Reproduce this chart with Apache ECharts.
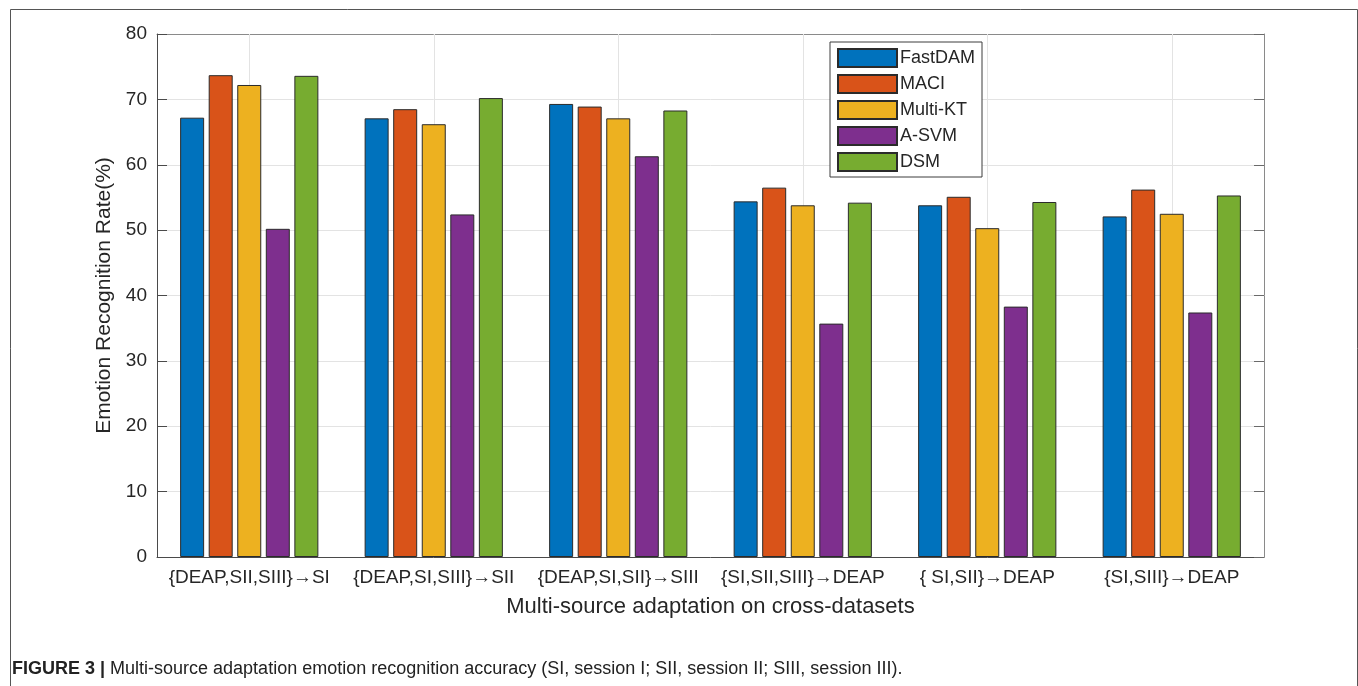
<!DOCTYPE html>
<html>
<head>
<meta charset="utf-8">
<script src="https://cdn.jsdelivr.net/npm/echarts@6/dist/echarts.min.js"></script>
<style>
  html, body { margin: 0; padding: 0; background: #fff; }
  #chart { width: 1358px; height: 686px; }
</style>
</head>
<body>
<div id="chart"></div>
<script>
// Cross-dataset multi-source adaptation results
const categories = [
  '{DEAP,SII,SIII}→SI',
  '{DEAP,SI,SIII}→SII',
  '{DEAP,SI,SII}→SIII',
  '{SI,SII,SIII}→DEAP',
  '{ SI,SII}→DEAP',
  '{SI,SIII}→DEAP'
];
const methods = ['FastDAM', 'MACI', 'Multi-KT', 'A-SVM', 'DSM'];
const fastDAM = [67.2, 67.1, 69.3, 54.4, 53.8, 52.1];
const maci    = [73.7, 68.5, 68.9, 56.5, 55.1, 56.2];
const multiKT = [72.2, 66.2, 67.1, 53.8, 50.3, 52.5];
const aSVM    = [50.2, 52.4, 61.3, 35.7, 38.3, 37.4];
const dsm     = [73.6, 70.2, 68.3, 54.2, 54.3, 55.3];
const yTicks  = [0, 10, 20, 30, 40, 50, 60, 70, 80];

const seriesValues = [fastDAM, maci, multiKT, aSVM, dsm];
const colors = ['#0072BD', '#D95319', '#EDB120', '#7E2F8E', '#77AC30'];

const chart = echarts.init(document.getElementById('chart'));
const font = 'Liberation Sans, Arial, sans-serif';
const textColor = '#262626';

const series = methods.map((name, i) => ({
  name: name,
  type: 'bar',
  data: seriesValues[i],
  barWidth: 24,
  barGap: '19%',
  z: 3,
  itemStyle: { color: colors[i], borderColor: '#2b2b2b', borderWidth: 1 }
}));

// Vertical grid lines through each category centre, drawn beneath the bars
series.push({
  name: 'gridlines',
  type: 'line',
  data: [],
  z: 1,
  silent: true,
  showSymbol: false,
  markLine: {
    z: 1,
    silent: true,
    symbol: 'none',
    label: { show: false },
    lineStyle: { color: '#e3e3e3', width: 1, type: 'solid' },
    data: categories.map(c => ({ xAxis: c }))
  }
});

chart.setOption({
  animation: false,
  backgroundColor: '#fff',
  textStyle: { fontFamily: font },
  grid: { left: 157, right: 94, top: 34, bottom: 129, containLabel: false },
  legend: {
    data: methods,
    orient: 'vertical',
    left: 830,
    top: 42,
    itemWidth: 59,
    itemHeight: 18,
    itemGap: 6,
    padding: [6, 7, 5, 7],
    backgroundColor: '#fff',
    borderColor: '#3c3c3c',
    borderWidth: 1,
    borderRadius: 0,
    icon: 'rect',
    textStyle: { fontFamily: font, fontSize: 18, lineHeight: 18, color: textColor, padding: [0, 0, 0, -2] }
  },
  xAxis: [{
    type: 'category',
    data: categories,
    position: 'bottom',
    name: 'Multi-source adaptation on cross-datasets',
    nameLocation: 'middle',
    nameGap: 39,
    nameTextStyle: { fontFamily: font, fontSize: 22, color: textColor },
    axisLine: { show: true, lineStyle: { color: '#4a4a4a', width: 1 } },
    axisTick: { show: true, inside: true, alignWithLabel: true, length: 7, lineStyle: { color: '#4a4a4a' } },
    axisLabel: { fontFamily: font, fontSize: 19, color: textColor, margin: 11, interval: 0 },
    splitLine: { show: false }
  }, {
    type: 'category',
    data: categories,
    position: 'top',
    axisLine: { show: true, onZero: false, lineStyle: { color: '#8a8a8a', width: 1 } },
    axisTick: { show: false },
    axisLabel: { show: false },
    splitLine: { show: false }
  }],
  yAxis: [{
    type: 'value',
    min: 0,
    max: 80,
    interval: 10,
    name: 'Emotion Recognition Rate(%)',
    nameLocation: 'middle',
    nameGap: 40,
    nameTextStyle: { fontFamily: font, fontSize: 21, color: textColor },
    axisLine: { show: true, lineStyle: { color: '#4a4a4a', width: 1 } },
    axisTick: { show: true, inside: true, length: 10, lineStyle: { color: '#4a4a4a' } },
    axisLabel: {
      fontFamily: font, fontSize: 19, color: textColor, margin: 10,
      formatter: v => (yTicks.includes(v) ? String(v) : '')
    },
    splitLine: { show: true, lineStyle: { color: '#e3e3e3', width: 1 } }
  }, {
    type: 'value',
    min: 0,
    max: 80,
    interval: 10,
    position: 'right',
    axisLine: { show: true, lineStyle: { color: '#8a8a8a', width: 1 } },
    axisTick: { show: true, inside: true, length: 10, lineStyle: { color: '#6a6a6a' } },
    axisLabel: { show: false },
    splitLine: { show: false }
  }],
  series: series,
  graphic: [{
    type: 'rect',
    left: 8,
    top: 7,
    shape: { width: 1347, height: 690 },
    style: { fill: 'none', stroke: '#555', lineWidth: 1 },
    silent: true,
    z: -1
  }, {
    type: 'text',
    left: 12,
    top: 660,
    style: {
      text: '{b|FIGURE 3 |} Multi-source adaptation emotion recognition accuracy (SI, session I; SII, session II; SIII, session III).',
      font: '18px ' + font,
      fill: '#222',
      rich: {
        b: { font: 'bold 18px ' + font, fill: '#222' }
      }
    }
  }]
});
</script>
</body>
</html>
